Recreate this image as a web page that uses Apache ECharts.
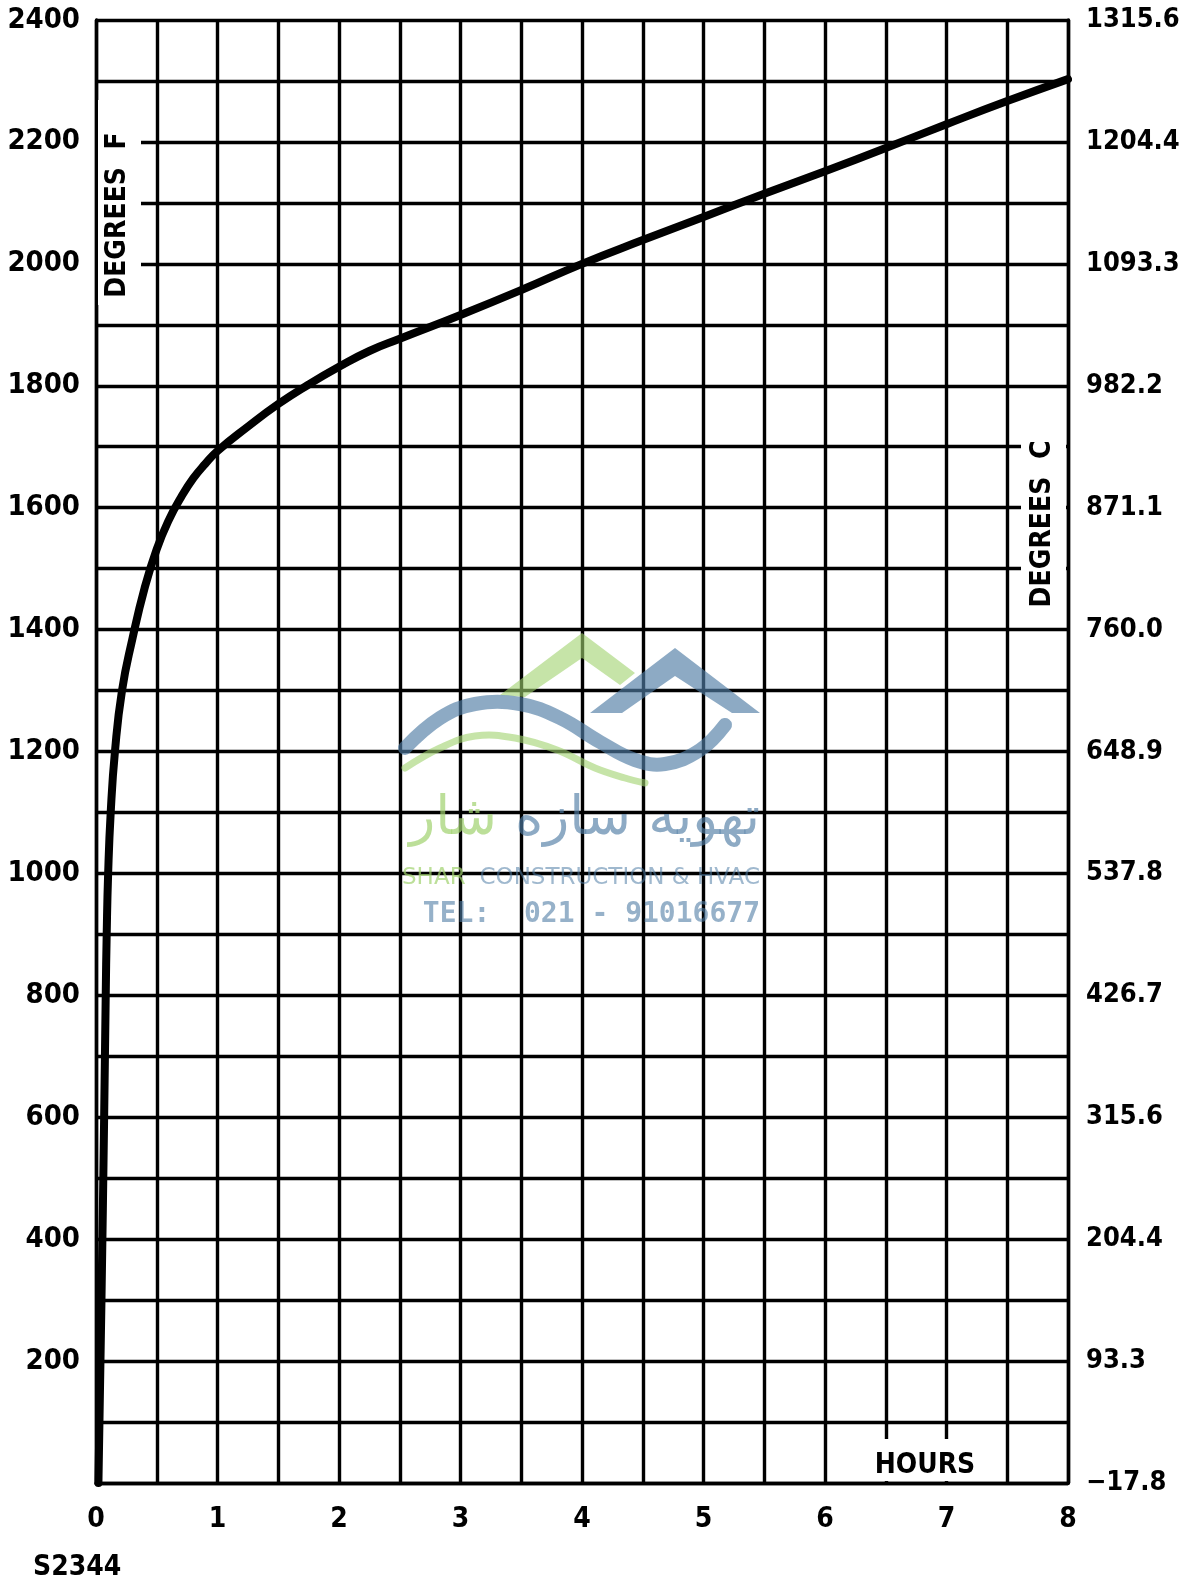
<!DOCTYPE html>
<html>
<head>
<meta charset="utf-8">
<script src="https://cdn.jsdelivr.net/npm/echarts@6/dist/echarts.min.js"></script>
<style>
html,body{margin:0;padding:0;background:#fff;}
#chart{width:1191px;height:1583px;}
</style>
</head>
<body>
<div id="chart"></div>
<script>
// ---- data (time in hours, temperature in degrees F) ----
const hours = [0.02, 0.045, 0.067, 0.080, 0.088, 0.10, 0.121, 0.156, 0.214, 0.3, 0.4, 0.5, 0.6, 0.7, 0.8, 0.9, 1.0, 1.25, 1.5, 1.75, 2.0, 2.25, 2.5, 3.0, 3.5, 4.0, 4.5, 5.0, 5.5, 6.0, 6.5, 7.0, 7.5, 8.0];
const degF  = [0, 300, 600, 800, 900, 1000, 1100, 1200, 1300, 1385, 1468, 1532, 1580, 1617, 1648, 1672, 1693, 1733, 1770, 1802, 1831, 1857, 1877, 1916, 1957, 2000, 2039, 2077, 2115, 2152, 2190, 2229, 2267, 2303];

// ---- tick labels ----
const xLabelValues = [0, 1, 2, 3, 4, 5, 6, 7, 8];
const fTickValues  = [200, 400, 600, 800, 1000, 1200, 1400, 1600, 1800, 2000, 2200, 2400];
const cTickValues  = [0, 200, 400, 600, 800, 1000, 1200, 1400, 1600, 1800, 2000, 2200, 2400];
const cTickLabels  = ['\u221217.8', '93.3', '204.4', '315.6', '426.7', '537.8', '648.9', '760.0', '871.1', '982.2', '1093.3', '1204.4', '1315.6'];

const FONT = '"DejaVu Sans Condensed", "DejaVu Sans", sans-serif';
const FW = 'bold';
const chart = echarts.init(document.getElementById('chart'), null, {renderer: 'canvas'});

const gridLine = {show: true, lineStyle: {color: '#000', width: 3.4}};

const option = {
  backgroundColor: '#fff',
  animation: false,
  grid: {left: 96, right: 123, top: 20, bottom: 100, containLabel: false},
  xAxis: {
    type: 'value', min: 0, max: 8, interval: 0.5,
    axisLine: {show: true, onZero: false, lineStyle: {color: '#000', width: 3.4}},
    axisTick: {show: false},
    splitLine: gridLine,
    axisLabel: {
      margin: 23, color: '#000', fontFamily: FONT, fontWeight: FW, fontSize: 28,
      formatter: v => xLabelValues.indexOf(v) >= 0 ? String(v) : ''
    }
  },
  yAxis: [
    {
      type: 'value', position: 'left', min: 0, max: 2400, interval: 100,
      axisLine: {show: true, onZero: false, lineStyle: {color: '#000', width: 3.4}},
      axisTick: {show: false},
      splitLine: gridLine,
      axisLabel: {
        margin: 16, color: '#000', fontFamily: FONT, fontWeight: FW, fontSize: 29,
        formatter: v => fTickValues.indexOf(v) >= 0 ? String(v) : ''
      }
    },
    {
      type: 'value', position: 'right', min: 0, max: 2400, interval: 100,
      axisLine: {show: true, onZero: false, lineStyle: {color: '#000', width: 3.4}},
      axisTick: {show: false},
      splitLine: {show: false},
      axisLabel: {
        margin: 18, color: '#000', fontFamily: FONT, fontWeight: FW, fontSize: 27,
        formatter: v => { const i = cTickValues.indexOf(v); return i >= 0 ? cTickLabels[i] : ''; }
      }
    }
  ],
  series: [{
    type: 'line',
    data: hours.map((h, i) => [h, degF[i]]),
    showSymbol: false,
    smooth: 0.5,
    lineStyle: {color: '#000', width: 8, cap: 'round', join: 'round'},
    z: 10
  }],
  graphic: [
    // label boxes
    {type: 'rect', z: 50, shape: {x: 98, y: 100, width: 43, height: 205}, style: {fill: '#fff'}},
    {type: 'text', z: 51, x: 118, y: 215, rotation: Math.PI / 2,
     style: {text: 'DEGREES  F', fontFamily: FONT, fontWeight: FW, fontSize: 28, fill: '#000', textAlign: 'center', textVerticalAlign: 'middle'}},
    {type: 'rect', z: 50, shape: {x: 1021, y: 405, width: 45, height: 210}, style: {fill: '#fff'}},
    {type: 'text', z: 51, x: 1043, y: 524, rotation: Math.PI / 2,
     style: {text: 'DEGREES  C', fontFamily: FONT, fontWeight: FW, fontSize: 28, fill: '#000', textAlign: 'center', textVerticalAlign: 'middle'}},
    {type: 'rect', z: 50, shape: {x: 858, y: 1439, width: 140, height: 42}, style: {fill: '#fff'}},
    {type: 'text', z: 51, x: 925, y: 1466,
     style: {text: 'HOURS', fontFamily: FONT, fontWeight: FW, fontSize: 28, fill: '#000', textAlign: 'center', textVerticalAlign: 'middle'}},
    {type: 'text', z: 51, x: 33, y: 1568,
     style: {text: 'S2344', fontFamily: FONT, fontWeight: FW, fontSize: 28, fill: '#000', textAlign: 'left', textVerticalAlign: 'middle'}},

    // watermark logo (semi-transparent, on top)
    {type: 'polygon', z: 60, shape: {points: [[500,695],[582,633],[635,673],[620,685],[582,658],[525,697]]},
     style: {fill: 'rgba(160,210,110,0.6)'}},
    {type: 'polygon', z: 60, shape: {points: [[590,713],[675,648],[760,713],[732,713],[675,676],[622,713]]},
     style: {fill: 'rgba(80,125,165,0.65)'}},
    {type: 'polyline', z: 60, shape: {points: [[405,768],[440,748],[475,736],[515,738],[557,750],[595,768],[625,778],[645,783]], smooth: 0.4},
     style: {stroke: 'rgba(160,210,110,0.6)', lineWidth: 7, fill: null, lineCap: 'round'}},
    {type: 'polyline', z: 60, shape: {points: [[405,748],[440,718],[475,704],[520,704],[560,718],[600,742],[635,760],[665,764],[700,750],[725,725]], smooth: 0.4},
     style: {stroke: 'rgba(80,125,165,0.65)', lineWidth: 14, fill: null, lineCap: 'round'}},
    {type: 'text', z: 60, x: 760, y: 820,
     style: {text: 'تهویه سازه', fontFamily: 'DejaVu Sans', fontSize: 54, fill: 'rgba(80,125,165,0.65)', textAlign: 'right', textVerticalAlign: 'middle'}},
    {type: 'text', z: 60, x: 497, y: 820,
     style: {text: 'شار', fontFamily: 'DejaVu Sans', fontSize: 54, fill: 'rgba(160,210,110,0.7)', textAlign: 'right', textVerticalAlign: 'middle'}},
    {type: 'text', z: 60, x: 402, y: 878,
     style: {text: 'SHAR', fontFamily: 'DejaVu Sans', fontSize: 23, fill: 'rgba(160,210,110,0.7)', textAlign: 'left', textVerticalAlign: 'middle'}},
    {type: 'text', z: 60, x: 760, y: 878,
     style: {text: 'CONSTRUCTION & HVAC', fontFamily: 'DejaVu Sans', fontSize: 23, fill: 'rgba(80,125,165,0.55)', textAlign: 'right', textVerticalAlign: 'middle'}},
    {type: 'text', z: 60, x: 760, y: 915,
     style: {text: 'TEL:  021 - 91016677', fontFamily: 'DejaVu Sans Mono', fontSize: 28, fontWeight: 'bold', fill: 'rgba(80,125,165,0.6)', textAlign: 'right', textVerticalAlign: 'middle'}}
  ]
};
chart.setOption(option);
</script>
</body>
</html>
